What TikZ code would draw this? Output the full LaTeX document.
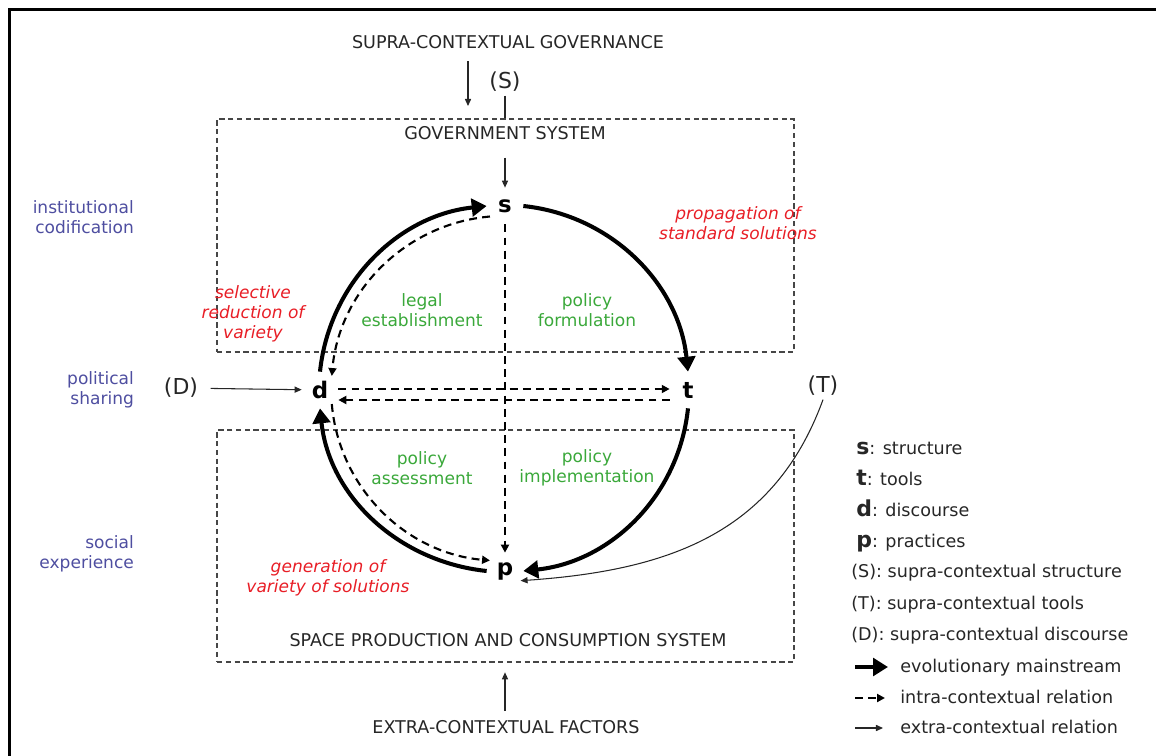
\documentclass[tikz,border=0pt]{standalone}
\usepackage{fontspec}
\setmainfont{DejaVu Sans}
\usetikzlibrary{arrows.meta}

\definecolor{codblue}{RGB}{78,78,160}
\definecolor{varred}{RGB}{232,30,38}
\definecolor{polgreen}{RGB}{58,168,58}
\definecolor{boxgray}{RGB}{70,70,70}

\newcommand{\keyletter}[1]{{\fontsize{12.5}{14}\selectfont\bfseries #1}}

\tikzset{
  lbl/.style={font=\fontsize{9.7}{11.4}\selectfont, text=black!85, align=center, inner sep=1pt},
  caplabel/.style={lbl, font=\fontsize{10}{12}\selectfont},
  phaselabel/.style={lbl, text=polgreen},
  driftlabel/.style={lbl, text=varred, font=\fontsize{9.7}{11.4}\selectfont\itshape},
  dimlabel/.style={lbl, text=codblue, align=right, anchor=east},
  keylabel/.style={lbl, font=\fontsize{10}{12}\selectfont, anchor=base west, inner sep=0pt},
  pole/.style={circle, minimum size=0.72cm, inner sep=0pt, font=\fontsize{13}{14}\selectfont\bfseries},
  supralabel/.style={font=\fontsize{12.5}{14}\selectfont, inner sep=2pt, text=black!85},
  sysbox/.style={draw=boxgray, dash pattern=on 3pt off 2pt, line width=0.8pt, minimum width=11.54cm},
  mainflow/.style={line width=2.3pt, -{Triangle[length=8.5pt,width=10pt]}},
  intraflow/.style={line width=1.2pt, dash pattern=on 4.5pt off 3pt, -{Triangle[length=4.5pt,width=4.5pt]}},
  extraflow/.style={line width=0.6pt, draw=black!85, -{Triangle[length=4pt,width=3.5pt]}},
}

\begin{document}
\begin{tikzpicture}[x=0.02cm, y=0.02cm]
\useasboundingbox (0,0) rectangle (1156,-756);
\draw[line width=1.7pt] (9.5,-756) |- (1156,-9.5);

% outside influences
\node (govern) at (508,-42) [caplabel] {SUPRA-CONTEXTUAL GOVERNANCE};
\node (supS) at (505,-82) [supralabel] {(S)};
\node (supD) at (181,-388) [supralabel] {(D)};
\node (supT) at (823,-386) [supralabel] {(T)};
\node (extra) at (506,-727) [caplabel] {EXTRA-CONTEXTUAL FACTORS};
\coordinate (govin) at (468,-106);

% the two systems
\node (govbox) at (505.5,-235.5) [sysbox, minimum height=4.66cm] {};
\node (spcbox) at (505.5,-546) [sysbox, minimum height=4.64cm] {};
\node (govsys) at (505,-133) [caplabel] {GOVERNMENT SYSTEM};
\node (spcsys) at (508,-640) [caplabel] {SPACE PRODUCTION AND CONSUMPTION SYSTEM};

% s, t, d, p
\node (s) at (505,-206) [pole] {s};
\node (t) at (688,-390) [pole] {t};
\node (d) at (320,-390) [pole] {d};
\node (p) at (505,-571) [pole] {p};

% dimensions on the left
\node (instit) at (136,-217) [dimlabel] {institutional\\codification};
\node (politic) at (136,-390) [dimlabel] {political\\sharing};
\node (social) at (136,-554) [dimlabel] {social\\experience};

% quadrants
\node (legal) at (422,-310) [phaselabel] {legal\\establishment};
\node (formul) at (587,-310) [phaselabel] {policy\\formulation};
\node (assess) at (422,-468) [phaselabel] {policy\\assessment};
\node (implem) at (587,-468) [phaselabel] {policy\\implementation};

\node (propag) at (738,-223) [driftlabel] {propagation of\\standard solutions};
\node (select) at (253,-314) [driftlabel] {selective\\reduction of\\variety};
\node (generat) at (328,-578) [driftlabel] {generation of\\variety of solutions};

% evolutionary cycle
\draw[mainflow] (d.north) to[out=84,in=186,looseness=0.97] (s.west);
\draw[mainflow] (s.east) to[out=-6,in=96,looseness=0.97] (t.north);
\draw[mainflow] (t.south) to[out=-96,in=6,looseness=0.97] (p.east);
\draw[mainflow] (p.west) to[out=174,in=-84,looseness=0.97] (d.south);

% relations inside the context
\draw[intraflow] (s.215) to[out=185,in=85,looseness=0.97] (d.50);
\draw[intraflow] (d.-50) to[out=-85,in=175,looseness=0.97] (p.145);
\draw[intraflow] (s.south) -- (p.north);
\draw[intraflow] ([yshift=0.02cm]d.east) -- ([yshift=0.02cm]t.west);
\draw[intraflow] ([yshift=-0.2cm]t.west) -- ([yshift=-0.2cm]d.east);

% relations from outside
\draw[extraflow, shorten <=6pt] (govern.south -| govin) -- (govin);
\draw[line width=0.6pt, black!85] (supS.south) -- (supS.south |- govbox.north);
\draw[extraflow, shorten <=9pt] (govsys.south) -- (s.north);
\draw[extraflow, shorten <=5pt] (supD) -- (d);
\draw[extraflow] (supT.south) to[out=-110,in=4,looseness=1.05] (p.-32);
\draw[extraflow, shorten <=4pt, shorten >=5.5pt] (extra.north -| p) -- (spcbox.south -| p);

% key
\node (kS) at (856,-455) [keylabel] {\keyletter{s}: structure};
\node (kT) at (856,-486) [keylabel] {\keyletter{t}: tools};
\node (kD) at (856,-517) [keylabel] {\keyletter{d}: discourse};
\node (kP) at (856,-547) [keylabel] {\keyletter{p}: practices};
\node (kSS) at (851,-578) [keylabel] {(S): supra-contextual structure};
\node (kST) at (851,-609) [keylabel] {(T): supra-contextual tools};
\node (kSD) at (851,-640) [keylabel] {(D): supra-contextual discourse};
\node (kevol) at (900,-672) [keylabel] {evolutionary mainstream};
\node (kintra) at (900,-703) [keylabel] {intra-contextual relation};
\node (kextra) at (900,-733) [keylabel] {extra-contextual relation};
\draw[mainflow] ([xshift=-0.9cm,yshift=0.1cm]kevol.base west) -- ([xshift=-0.24cm,yshift=0.1cm]kevol.base west);
\draw[intraflow] ([xshift=-0.9cm,yshift=0.1cm]kintra.base west) -- ([xshift=-0.3cm,yshift=0.1cm]kintra.base west);
\draw[extraflow] ([xshift=-0.9cm,yshift=0.1cm]kextra.base west) -- ([xshift=-0.34cm,yshift=0.1cm]kextra.base west);
\end{tikzpicture}
\end{document}
